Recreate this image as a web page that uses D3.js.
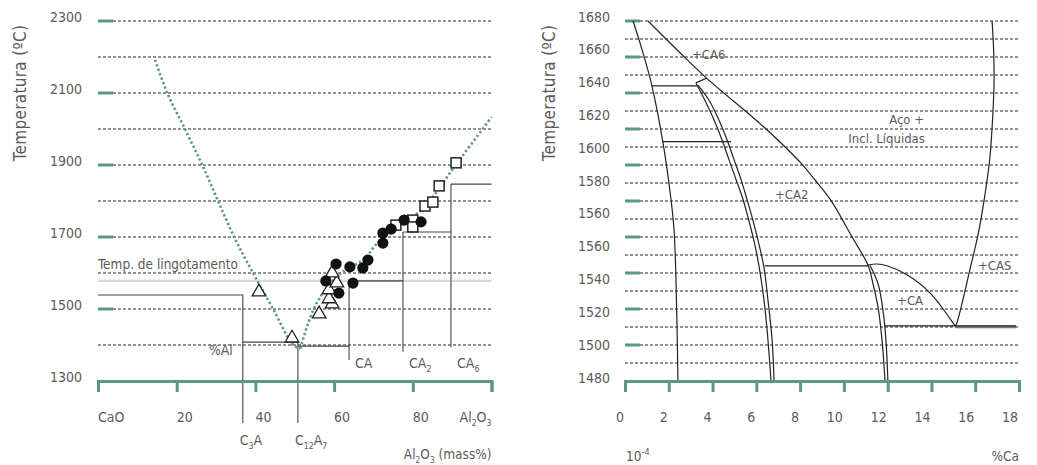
<!DOCTYPE html>
<html><head><meta charset="utf-8">
<script src="https://cdn.jsdelivr.net/npm/d3@7"></script>
<style>
body{margin:0;background:#fff;}
text{font-family:"DejaVu Sans Condensed","Liberation Sans Narrow","Liberation Sans",sans-serif;fill:#5a5a5a;}
</style></head>
<body><svg id="c" width="1037" height="465"></svg>
<script>
// ---------- LEFT CHART DATA (CaO–Al2O3) ----------
const leftTempTicks = [1300, 1500, 1700, 1900, 2100, 2300];
const leftTempMajor = [1500, 1700, 1900, 2100, 2300];
const leftGridTemps = [1400, 1500, 1600, 1700, 1800, 1900, 2000, 2100, 2200, 2300];
const leftXTicks = [0, 20, 40, 60, 80, 100];
const leftXLabels = [[["CaO",""]],[["20",""]],[["40",""]],[["60",""]],[["80",""]],[["Al","2"],["O","3"]]];
const castingTemp = 1578;
const castingLabel = "Temp. de lingotamento";
// liquidus (dotted)
const liquidusLeft = [[14.5,2192],[17.6,2100],[22.1,2000],[26.5,1900],[30.5,1800],[34.6,1700],[39.4,1600],[44.5,1500],[49.6,1400],[51.4,1390]];
const liquidusRight = [[51.4,1390],[54.7,1497],[58.3,1561],[63.0,1610],[67.4,1636],[71.0,1683],[76.5,1730],[82.7,1781],[91.3,1906],[100,2033]];
// experimental points
const triangles = [[40.9,1550],[49.3,1422],[56.2,1489],[59.5,1517],[58.7,1531],[58.7,1556],[60.7,1575],[59.5,1603]];
const circles = [[57.9,1578],[60.5,1625],[61.2,1544],[64.0,1617],[64.8,1572],[67.3,1614],[68.6,1636],[72.4,1683],[72.4,1711],[74.5,1722],[77.8,1747],[82.1,1742]];
const squares = [[75.7,1733],[80.0,1747],[80.0,1728],[83.1,1786],[85.1,1797],[86.7,1842],[91.0,1906]];
// phase boundary steps
const phaseSteps = [
  [[0,1539],[36.8,1539],[36.8,1183]],
  [[36.8,1408],[50.8,1408],[50.8,1183]],
  [[50.8,1397],[63.8,1397]],
  [[63.8,1578],[63.8,1358]],
  [[63.8,1578],[77.5,1578]],
  [[77.5,1714],[77.5,1381]],
  [[77.5,1714],[89.7,1714]],
  [[89.7,1847],[89.7,1394]],
  [[89.7,1847],[100,1847]]
];
const phaseLabels = [
  {x:63.8, parts:[["CA",""]]},
  {x:77.5, parts:[["CA","2"]]},
  {x:89.7, parts:[["CA","6"]]}
];
const compoundLabels = [
  {x:36.8, parts:[["C","3"],["A",""]]},
  {x:50.8, parts:[["C","12"],["A","7"]]}
];
const alLabel = {x:36.8, text:"%Al"};

// ---------- RIGHT CHART DATA (Fe–Ca–Al–O) ----------
const rightTempLabels = ["1680","1660","1640","1620","1600","1580","1560","1560","1540","1520","1500","1480"];
const rightTempMajor = [1500,1520,1540,1560,1580,1600,1620,1640,1660,1680];
const rightGridTemps = [1490,1500,1510,1520,1530,1540,1550,1560,1570,1580,1590,1600,1610,1620,1630,1640,1650,1660,1670,1680];
const rightXTicks = [0,2,4,6,8,10,12,14,16,18];
const curveA = [[0.37,1680],[0.78,1664],[1.23,1644],[1.74,1612],[2.10,1581],[2.24,1564],[2.33,1536],[2.42,1480]];
const curveB = [[1.05,1680],[2.88,1658],[3.75,1648],[6.17,1623],[7.08,1612.8],[7.99,1601.7],[8.68,1591.7],[9.37,1581],[10.42,1559],[11.10,1544.4],[11.33,1534],[11.56,1521],[11.74,1503],[11.88,1480]];
const curveC = [[11.20,1544],[11.56,1534],[11.79,1519],[11.92,1503],[12.01,1480]];
const curveCA2L = [[3.24,1645.6],[3.65,1636],[4.07,1625],[4.43,1614],[4.75,1603],[5.07,1592],[5.39,1581],[5.66,1569],[5.89,1558],[6.12,1544],[6.35,1525],[6.53,1503],[6.67,1480]];
const curveCA2R = [[3.33,1644.4],[3.84,1636],[4.29,1625],[4.66,1614],[4.98,1603],[5.30,1592],[5.57,1581],[5.85,1569],[6.08,1558],[6.35,1543],[6.53,1525],[6.72,1503],[6.81,1480]];
const curveCA = [[11.10,1544.4],[11.51,1545],[11.97,1544],[12.88,1539],[13.93,1529],[15.08,1510.6]];
const curveCAS = [[16.77,1680],[16.84,1664],[16.86,1646],[16.80,1627],[16.67,1604],[16.45,1584],[16.14,1562],[15.76,1542],[15.15,1512],[15.08,1510.6]];
const tieLines = [
  [[1.23,1644],[3.29,1644]],
  [[3.24,1645.6],[3.75,1648.3]],
  [[1.73,1613],[4.84,1613]],
  [[6.39,1544],[11.10,1544]],
  [[11.88,1510.6],[17.86,1510.6]]
];
const eutecticThick = [[15.08,1510],[17.86,1510]];
const regionLabels = [
  {x:3.06, t:1658.9, text:"+CA6", anchor:"start"},
  {x:6.85, t:1581.1, text:"+CA2", anchor:"start"},
  {x:12.43, t:1522.2, text:"+CA", anchor:"start"},
  {x:16.13, t:1541.7, text:"+CAS", anchor:"start"},
  {x:13.66, t:1622.8, text:"Aço +", anchor:"end"},
  {x:13.70, t:1612.2, text:"Incl. Líquidas", anchor:"end"}
];

// ---------- DRAW ----------
const svg = d3.select("#c");
const teal = "#5b978a";
const xL = d3.scaleLinear([0,100],[98,491.5]);
const yL = d3.scaleLinear([1300,2300],[381,21]);
const xR = d3.scaleLinear([0,18],[625,1019]);
const yR = d3.scaleLinear([1480,1680],[381,21]);

function richText(sel, parts, baseSize){
  let shifted = false;
  parts.forEach(([t,s])=>{
    const a = sel.append("tspan").text(t);
    if(shifted){ a.attr("dy",-3.5); shifted=false; }
    if(s){ sel.append("tspan").attr("dy",3.5).attr("font-size",baseSize*0.62).text(s); shifted=true; }
  });
}

// --- left chart ---
const gL = svg.append("g");
gL.selectAll(".grid").data(leftGridTemps).join("line")
  .attr("x1",xL(0)).attr("x2",xL(100)).attr("y1",d=>yL(d)).attr("y2",d=>yL(d))
  .attr("stroke","#222").attr("stroke-width",1).attr("stroke-dasharray","3,2");
gL.selectAll(".maj").data(leftTempMajor).join("line")
  .attr("x1",xL(0)).attr("x2",xL(0)+15).attr("y1",d=>yL(d)).attr("y2",d=>yL(d))
  .attr("stroke",teal).attr("stroke-width",3);
gL.selectAll(".ylab").data(leftTempTicks).join("text")
  .attr("x",82).attr("y",d=>yL(d)+0.5).attr("text-anchor","end")
  .attr("font-size",14).text(d=>d);
gL.append("text").attr("transform","translate(26,93) rotate(-90)").attr("text-anchor","middle")
  .attr("font-size",17).attr("letter-spacing",0.3).text("Temperatura (ºC)");
// casting line
gL.append("line").attr("x1",xL(0)).attr("x2",xL(100)).attr("y1",yL(castingTemp)).attr("y2",yL(castingTemp))
  .attr("stroke","#d9d9d9").attr("stroke-width",2.2);
gL.append("text").attr("x",xL(0)).attr("y",yL(castingTemp)-12).attr("font-size",13.5).text(castingLabel);
// steps
const lineL = d3.line().x(d=>xL(d[0])).y(d=>yL(d[1]));
gL.selectAll(".step").data(phaseSteps).join("path").attr("d",lineL)
  .attr("fill","none").attr("stroke","#444").attr("stroke-width",1.1);
// axis
const axL = d3.axisBottom(xL).tickValues(leftXTicks).tickSize(11).tickSizeOuter(11).tickFormat("");
const gAxL = gL.append("g").attr("transform",`translate(0,${yL(1300)})`).call(axL);
gAxL.select(".domain").attr("stroke",teal).attr("stroke-width",3);
gAxL.selectAll(".tick line").attr("stroke",teal).attr("stroke-width",3);
leftXTicks.forEach((v,i)=>{
  const t = gL.append("text").attr("x",xL(v)).attr("y",422).attr("font-size",14)
    .attr("text-anchor", i===leftXTicks.length-1 ? "end":"start");
  richText(t, leftXLabels[i], 14);
});
phaseLabels.forEach(p=>{
  const t = gL.append("text").attr("x",xL(p.x)+6).attr("y",368).attr("font-size",14);
  richText(t,p.parts,14);
});
compoundLabels.forEach(p=>{
  const t = gL.append("text").attr("x",xL(p.x)-3).attr("y",445).attr("font-size",14);
  richText(t,p.parts,14);
});
gL.append("text").attr("x",xL(alLabel.x)-10).attr("y",355).attr("text-anchor","end").attr("font-size",14).text(alLabel.text);
{
  const t = gL.append("text").attr("x",xL(100)).attr("y",459).attr("text-anchor","end").attr("font-size",13.5);
  richText(t,[["Al","2"],["O","3"],[" (mass%)",""]],13.5);
}
// dotted liquidus
const lineLc = d3.line().x(d=>xL(d[0])).y(d=>yL(d[1])).curve(d3.curveCatmullRom);
[liquidusLeft, liquidusRight].forEach(data=>{
  gL.append("path").attr("d",lineLc(data)).attr("fill","none").attr("stroke",teal)
    .attr("stroke-width",2.6).attr("stroke-dasharray","2.3,2.4");
});
// markers
gL.selectAll(".tri").data(triangles).join("path")
  .attr("d",d3.symbol(d3.symbolTriangle,80))
  .attr("transform",d=>`translate(${xL(d[0])},${yL(d[1])+1})`)
  .attr("fill","#fff").attr("stroke","#222").attr("stroke-width",1.3);
gL.selectAll(".sq").data(squares).join("rect")
  .attr("x",d=>xL(d[0])-5).attr("y",d=>yL(d[1])-5).attr("width",10).attr("height",10)
  .attr("fill","#fff").attr("stroke","#222").attr("stroke-width",1.5);
gL.selectAll(".cir").data(circles).join("circle")
  .attr("cx",d=>xL(d[0])).attr("cy",d=>yL(d[1])).attr("r",5.6).attr("fill","#111");

// --- right chart ---
const gR = svg.append("g");
gR.selectAll(".grid").data(rightGridTemps).join("line")
  .attr("x1",xR(0)).attr("x2",xR(18)).attr("y1",d=>yR(d)).attr("y2",d=>yR(d))
  .attr("stroke","#222").attr("stroke-width",1).attr("stroke-dasharray","3,2");
gR.selectAll(".maj").data(rightTempMajor).join("line")
  .attr("x1",xR(0)).attr("x2",xR(0)+15).attr("y1",d=>yR(d)).attr("y2",d=>yR(d))
  .attr("stroke",teal).attr("stroke-width",3);
const labPos = d3.scalePoint(d3.range(rightTempLabels.length),[16,377]);
gR.selectAll(".ylab").data(rightTempLabels).join("text")
  .attr("x",610).attr("y",(d,i)=>labPos(i)+5.5).attr("text-anchor","end")
  .attr("font-size",14).text(d=>d);
gR.append("text").attr("transform","translate(555,93) rotate(-90)").attr("text-anchor","middle")
  .attr("font-size",17).attr("letter-spacing",0.3).text("Temperatura (ºC)");
const lineR = d3.line().x(d=>xR(d[0])).y(d=>yR(d[1]));
const lineRc = d3.line().x(d=>xR(d[0])).y(d=>yR(d[1])).curve(d3.curveCatmullRom);
gR.append("path").attr("d",lineR(eutecticThick)).attr("stroke","#777").attr("stroke-width",2.6).attr("fill","none");
[curveA,curveB,curveC,curveCA2L,curveCA2R,curveCA,curveCAS].forEach(c=>{
  gR.append("path").attr("d",lineRc(c)).attr("fill","none").attr("stroke","#222").attr("stroke-width",1.2);
});
gR.selectAll(".tie").data(tieLines).join("path").attr("d",lineR)
  .attr("fill","none").attr("stroke","#222").attr("stroke-width",1.2);
const axR = d3.axisBottom(xR).tickValues(rightXTicks).tickSize(11).tickSizeOuter(11).tickFormat("");
const gAxR = gR.append("g").attr("transform",`translate(0,${yR(1480)})`).call(axR);
gAxR.select(".domain").attr("stroke",teal).attr("stroke-width",3);
gAxR.selectAll(".tick line").attr("stroke",teal).attr("stroke-width",3);
gR.selectAll(".xlab").data(rightXTicks).join("text")
  .attr("x",d=>xR(d)-1).attr("y",422).attr("text-anchor","end").attr("font-size",14).text(d=>d);
{
  const t = gR.append("text").attr("x",xR(0)+1).attr("y",461).attr("font-size",13.5);
  t.append("tspan").text("10");
  t.append("tspan").attr("dy",-6).attr("font-size",9).text("-4");
}
gR.append("text").attr("x",xR(18)).attr("y",461).attr("text-anchor","end").attr("font-size",13.5).text("%Ca");
gR.selectAll(".reg").data(regionLabels).join("text")
  .attr("x",d=>xR(d.x)).attr("y",d=>yR(d.t)).attr("text-anchor",d=>d.anchor)
  .attr("font-size",13).text(d=>d.text);
</script></body></html>
